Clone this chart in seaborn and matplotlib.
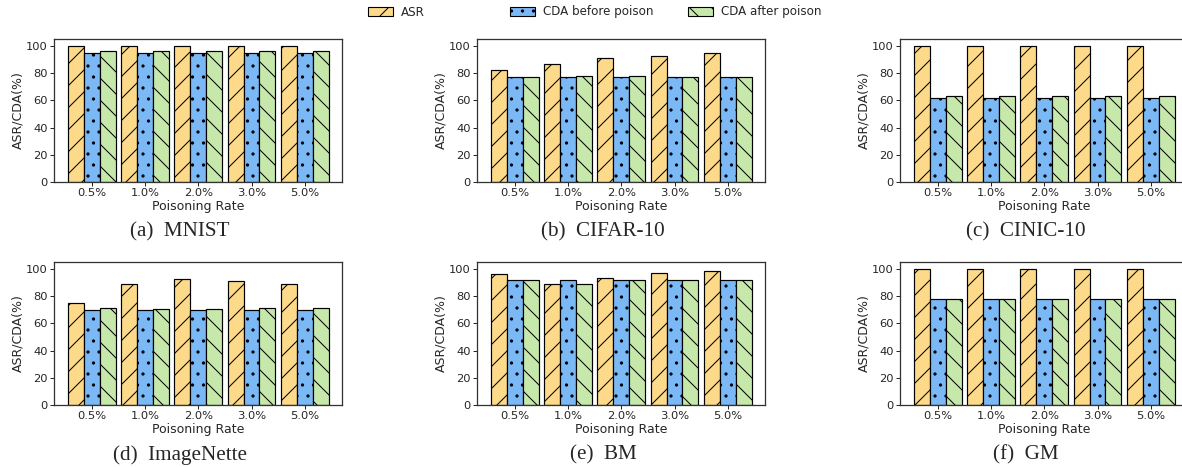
import pandas as pd
import matplotlib
matplotlib.use("Agg")
import matplotlib.pyplot as plt
import matplotlib.patches as mpatches
import seaborn as sns

rates = ['0.5%', '1.0%', '2.0%', '3.0%', '5.0%']
series = ['ASR', 'CDA before poison', 'CDA after poison']

# values, one set per dataset
mnist_asr = [100, 100, 100, 100, 100]
mnist_before = [94.5, 94.5, 94.5, 94.5, 94.5]
mnist_after = [96, 96, 96, 96, 96]

cifar_asr = [82, 86.5, 91, 92.5, 94.5]
cifar_before = [77, 77, 77, 77, 77]
cifar_after = [77, 77.5, 77.5, 77, 77]

cinic_asr = [100, 100, 100, 100, 100]
cinic_before = [62, 62, 62, 62, 62]
cinic_after = [63, 63, 63, 63, 63]

imnette_asr = [75, 88.5, 92.5, 91, 88.5]
imnette_before = [69.5, 69.5, 69.5, 69.5, 69.5]
imnette_after = [71, 70.5, 70.5, 71, 71]

bm_asr = [96.5, 89, 93, 97, 98.5]
bm_before = [92, 92, 92, 92, 92]
bm_after = [92, 89, 91.5, 92, 92]

gm_asr = [100, 100, 100, 100, 100]
gm_before = [78, 78, 78, 78, 78]
gm_after = [78, 78, 78, 78, 78]

captions = ['(a)  MNIST', '(b)  CIFAR-10', '(c)  CINIC-10',
            '(d)  ImageNette', '(e)  BM', '(f)  GM']
panels = [
    (mnist_asr, mnist_before, mnist_after),
    (cifar_asr, cifar_before, cifar_after),
    (cinic_asr, cinic_before, cinic_after),
    (imnette_asr, imnette_before, imnette_after),
    (bm_asr, bm_before, bm_after),
    (gm_asr, gm_before, gm_after),
]

colors = ['#FDD98A', '#7BB8F6', '#C7E8AB']
hatches = ['/', '.', '\\']

sns.set_style('ticks')
plt.rcParams['font.family'] = ['DejaVu Sans']
plt.rcParams['hatch.linewidth'] = 1.1

# low dpi on a big canvas so the hatch spacing comes out like the reference
DPI = 66
W, H = 1182, 467
fig = plt.figure(figsize=(W / DPI, H / DPI), dpi=DPI)

lefts = [54, 477, 900]
tops = [39, 262]
aw, ah = 288, 143

for i, (asr, before, after) in enumerate(panels):
    r, c = divmod(i, 3)
    x0, y0 = lefts[c], tops[r]
    ax = fig.add_axes([x0 / W, 1 - (y0 + ah) / H, aw / W, ah / H])

    df = pd.DataFrame({
        'rate': rates * 3,
        'value': asr + before + after,
        'kind': [s for s in series for _ in rates],
    })
    sns.barplot(data=df, x='rate', y='value', hue='kind', order=rates,
                hue_order=series, palette=colors, width=0.9,
                edgecolor='black', linewidth=1.3, saturation=1,
                legend=False, ax=ax)

    # hatches: patches come ordered by hue then x
    for j, bar in enumerate(ax.patches[:15]):
        bar.set_hatch(hatches[j // 5])

    ax.set_xlim(-0.71, 4.7)
    ax.set_ylim(0, 105)
    ax.set_yticks([0, 20, 40, 60, 80, 100])
    ax.tick_params(labelsize=12.5, length=4, width=1.1, pad=3)
    ax.set_xlabel('Poisoning Rate', fontsize=13.6, labelpad=2)
    ax.set_ylabel('ASR/CDA(%)', fontsize=13.6, labelpad=2)
    for sp in ax.spines.values():
        sp.set_linewidth(1.4)
        sp.set_color('#333333')

    cx = x0 + aw / 2 - 18
    cy = y0 + ah + 50
    fig.text(cx / W, 1 - cy / H, captions[i], ha='center', va='center',
             fontsize=23, family=['Liberation Serif', 'DejaVu Serif'])

# one legend entry per box, placed where the reference has them
legend_x = [368, 510, 688]
for k in range(3):
    h = mpatches.Patch(facecolor=colors[k], edgecolor='black',
                       hatch=hatches[k], label=series[k], linewidth=1.2)
    fig.legend(handles=[h], loc='center left',
               bbox_to_anchor=(legend_x[k] / W, 1 - 12 / H),
               frameon=False, fontsize=13, handlelength=2.1,
               handleheight=0.7, handletextpad=0.7,
               borderaxespad=0, borderpad=0)

fig.savefig('out.png', dpi=DPI)
